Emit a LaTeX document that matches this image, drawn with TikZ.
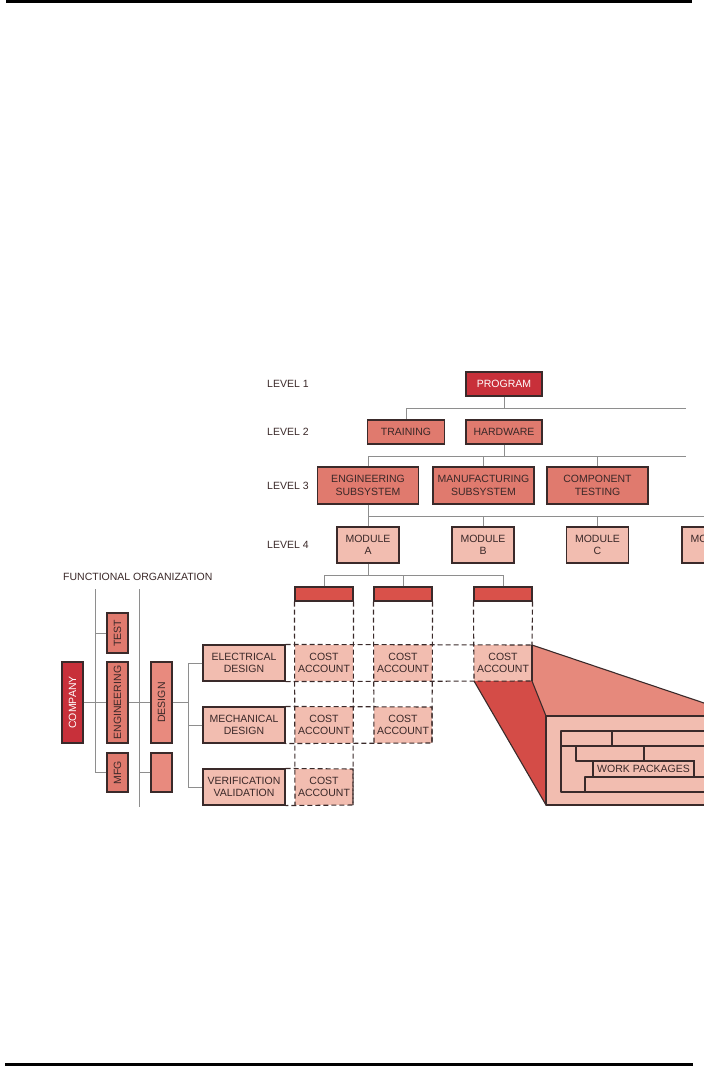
\documentclass[tikz,border=0pt]{standalone}
\usepackage{fontspec}
\setmainfont{Liberation Sans}
\definecolor{ink}{HTML}{3A2828}
\definecolor{edge}{HTML}{3A2A2A}
\definecolor{dkred}{HTML}{C8303A}
\definecolor{midred}{HTML}{E07A6E}
\definecolor{dsgred}{HTML}{E88A7E}
\definecolor{ltpink}{HTML}{F2BDB0}
\definecolor{hdrred}{HTML}{D9514A}
\definecolor{sidered}{HTML}{D44C47}
\definecolor{topred}{HTML}{E6897C}
\definecolor{linegray}{HTML}{8E8E8E}
\begin{document}
\begin{tikzpicture}[x=1pt,y=-1pt,
  txt/.style={font=\fontsize{10.5}{12.3}\selectfont, text=ink},
  box/.style={draw=edge, line width=1.1pt, inner sep=0pt, align=center, txt},
  dk/.style={box, fill=dkred, text=white},
  md/.style={box, fill=midred},
  dg/.style={box, fill=dsgred},
  lt/.style={box, fill=ltpink},
  hdr/.style={box, fill=hdrred, minimum width=58pt, minimum height=14pt},
  cell/.style={txt, fill=ltpink, inner sep=0pt, align=center, minimum width=58pt, minimum height=36pt},
  lvl/.style={txt, anchor=west, inner sep=0pt},
  conn/.style={draw=linegray, line width=0.9pt},
  dsh/.style={draw=edge, line width=1.1pt, dash pattern=on 5pt off 3pt},
  solid edge/.style={draw=edge, line width=1.1pt, line join=round},
]
\useasboundingbox (0,0) rectangle (704,1066);
\clip (0,0) rectangle (704,1066);

% page rules
\fill[black] (6,0) rectangle (692,2.5);
\fill[black] (5,1063) rectangle (693,1066);

% ---------- level labels ----------
\node[lvl] (lv1) at (267,384) {LEVEL 1};
\node[lvl] (lv2) at (267,432) {LEVEL 2};
\node[lvl] (lv3) at (267,486) {LEVEL 3};
\node[lvl] (lv4) at (267,545) {LEVEL 4};

% ---------- WBS tree ----------
\node[dk, minimum width=76pt, minimum height=24pt] (prog) at (504,384) {PROGRAM};
\node[md, minimum width=77pt, minimum height=24pt] (train) at (406,432) {TRAINING};
\node[md, minimum width=76pt, minimum height=24pt] (hard) at (504,432) {HARDWARE};
\node[md, minimum width=101pt, minimum height=37pt] (engs) at (368,485.5) {ENGINEERING\\SUBSYSTEM};
\node[md, minimum width=101pt, minimum height=37pt] (mfgs) at (483.5,485.5) {MANUFACTURING\\SUBSYSTEM};
\node[md, minimum width=101pt, minimum height=37pt] (comp) at (597.5,485.5) {COMPONENT\\TESTING};
\node[lt, minimum width=62pt, minimum height=36pt] (moda) at (368,545) {MODULE\\A};
\node[lt, minimum width=62pt, minimum height=36pt] (modb) at (483,545) {MODULE\\B};
\node[lt, minimum width=62pt, minimum height=36pt] (modc) at (597.5,545) {MODULE\\C};
\node[lt, minimum width=62pt, minimum height=36pt] (modd) at (713,545) {MODULE\\D};

\coordinate (l1l) at (406,408); \coordinate (l1r) at (686,408);
\coordinate (l2l) at (368,456); \coordinate (l2r) at (686,456);
\coordinate (l3l) at (368,516); \coordinate (l3r) at (720,516);
\coordinate (l4l) at (324,575); \coordinate (l4r) at (503,575);

\draw[conn] (prog.south) -- (prog.south |- l1l);
\draw[conn] (l1l) -- (l1r);
\draw[conn] (l1l) -- (train.north);
\draw[conn] (hard.south) -- (hard.south |- l2l);
\draw[conn] (l2l) -- (l2r);
\draw[conn] (engs.north) -- (engs.north |- l2l);
\draw[conn] (mfgs.north) -- (mfgs.north |- l2l);
\draw[conn] (comp.north) -- (comp.north |- l2l);
\draw[conn] (engs.south) -- (engs.south |- l3l);
\draw[conn] (l3l) -- (l3r);
\draw[conn] (moda.north) -- (moda.north |- l3l);
\draw[conn] (modb.north) -- (modb.north |- l3l);
\draw[conn] (modc.north) -- (modc.north |- l3l);
\draw[conn] (modd.north) -- (modd.north |- l3l);

% ---------- cost account headers ----------
\node[hdr] (h1) at (324,594) {};
\node[hdr] (h2) at (403,594) {};
\node[hdr] (h3) at (503,594) {};
\draw[conn] (moda.south) -- (moda.south |- l4l);
\draw[conn] (l4l) -- (l4r);
\draw[conn] (h1.north) -- (h1.north |- l4l);
\draw[conn] (h2.north) -- (h2.north |- l4l);
\draw[conn] (h3.north) -- (h3.north |- l4l);

% ---------- functional organization ----------
\node[txt, anchor=west, inner sep=0pt] (fo) at (63,577) {FUNCTIONAL ORGANIZATION};
\node[dk, rotate=90, minimum width=81pt, minimum height=21pt] (company) at (72.5,702.5) {COMPANY};
\node[md, rotate=90, minimum width=40pt, minimum height=21pt] (test) at (117.5,633) {TEST};
\node[md, rotate=90, minimum width=81pt, minimum height=21pt] (engf) at (117.5,702.5) {ENGINEERING};
\node[md, rotate=90, minimum width=39pt, minimum height=21pt] (mfg) at (117.5,772.5) {MFG};
\node[dg, rotate=90, minimum width=81pt, minimum height=21pt] (design) at (161.5,702.5) {DESIGN};
\node[dg, rotate=90, minimum width=39pt, minimum height=21pt] (blank) at (161.5,772.5) {};

\coordinate (v1t) at (95,589); \coordinate (v1b) at (95,772.5);
\coordinate (v2t) at (139,589); \coordinate (v2b) at (139,807);
\coordinate (bt) at (188,663); \coordinate (bb) at (188,787);
\coordinate (br) at (188,702.5);
\draw[conn] (v1t) -- (v1b);
\draw[conn] (v2t) -- (v2b);
\draw[conn] (test) -- (test -| v1t);
\draw[conn] (mfg) -- (mfg -| v1t);
\draw[conn] (company) -- (engf);
\draw[conn] (engf) -- (design);
\draw[conn] (blank) -- (blank -| v2t);
\draw[conn] (design) -- (br);
\draw[conn] (bt) -- (bb);

% ---------- row boxes ----------
\node[lt, minimum width=82pt, minimum height=36pt] (elec) at (244,663) {ELECTRICAL\\DESIGN};
\node[lt, minimum width=82pt, minimum height=36pt] (mech) at (244,725) {MECHANICAL\\DESIGN};
\node[lt, minimum width=82pt, minimum height=36pt] (verif) at (244,787) {VERIFICATION\\VALIDATION};
\draw[conn] (elec) -- (elec -| bt);
\draw[conn] (mech) -- (mech -| bt);
\draw[conn] (verif) -- (verif -| bt);

% ---------- cost account cells ----------
\node[cell] (ca11) at (324,663) {COST\\ACCOUNT};
\node[cell] (ca21) at (403,663) {COST\\ACCOUNT};
\node[cell] (ca31) at (503,663) {COST\\ACCOUNT};
\node[cell] (ca12) at (324,725) {COST\\ACCOUNT};
\node[cell] (ca22) at (403,725) {COST\\ACCOUNT};
\node[cell] (ca13) at (324,787) {COST\\ACCOUNT};

% ---------- exploded work package view ----------
\fill[sidered] (474,681) -- (532,681) -- (546,716) -- (546,805) -- cycle;
\fill[topred] (532,645) -- (720,708.4) -- (720,716) -- (546,716) -- (532,681) -- cycle;
\draw[solid edge] (474,681) -- (546,805);
\draw[solid edge] (532,681) -- (546,716);
\draw[solid edge] (532,645) -- (720,708.4);
\draw[solid edge, fill=ltpink] (546,716) rectangle (720,805);

% dashed matrix lines
\draw[dsh] (elec.north east) -- (532,645);
\draw[dsh] (elec.south east) -- (532,681);
\draw[dsh] (mech.north east) -- (432,707) -- (432,743) -- (mech.south east);
\draw[dsh] (verif.north east) -- (353,769) -- (353,805) -- (verif.south east);
\draw[dsh] (h1.south west) -- (295,805);
\draw[dsh] (h1.south east) -- (353,805);
\draw[dsh] (h2.south west) -- (374,743);
\draw[dsh] (h2.south east) -- (432,743);
\draw[dsh] (h3.south west) -- (474,681);
\draw[dsh] (h3.south east) -- (532,645);
\draw[solid edge] (532,645) -- (532,681);

% work packages inside
\draw[solid edge] (720,731) -- (561,731) -- (561,792) -- (720,792);
\draw[solid edge] (561,746) -- (720,746);
\draw[solid edge] (612,731) -- (612,746);
\draw[solid edge] (576,746) rectangle (644,761);
\draw[solid edge] (585,792) -- (585,777) -- (720,777);
\node[lt, minimum width=101pt, minimum height=16pt] (wp) at (643.5,769) {WORK PACKAGES};

\end{tikzpicture}
\end{document}
